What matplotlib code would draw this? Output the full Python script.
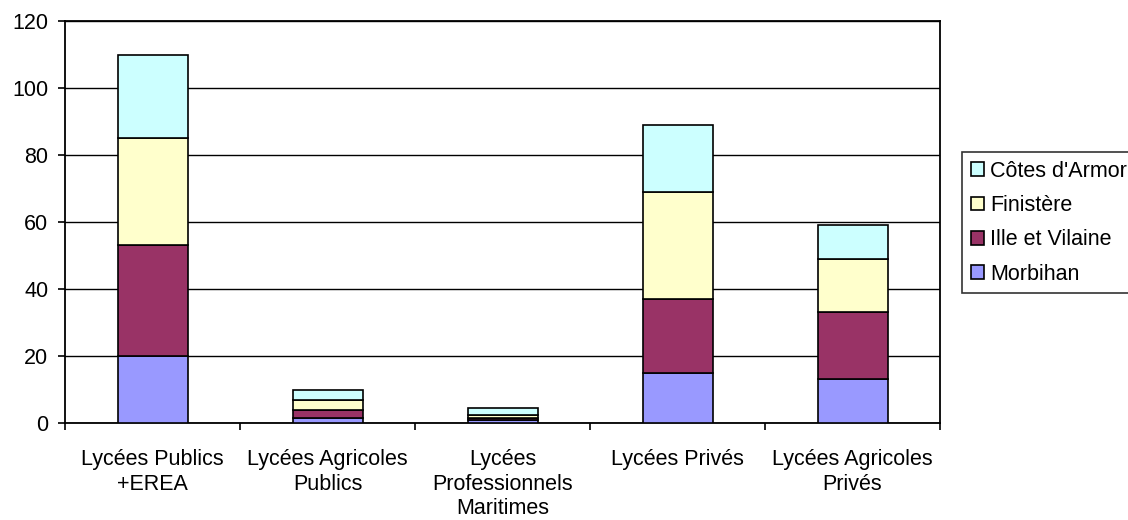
import matplotlib
matplotlib.use("Agg")
import matplotlib.pyplot as plt
import numpy as np

plt.rcParams['font.family'] = ['Liberation Sans', 'DejaVu Sans']

categories = ["Lycées Publics\n+EREA", "Lycées Agricoles\nPublics", "Lycées\nProfessionnels\nMaritimes",
              "Lycées Privés", "Lycées Agricoles\nPrivés"]
morbihan = [20, 1.5, 1, 15, 13]
ille_et_vilaine = [33, 2.5, 0.5, 22, 20]
finistere = [32, 3, 1, 32, 16]
cotes_darmor = [25, 3, 2, 20, 10]

series = [("Morbihan", morbihan, "#9999FF"),
          ("Ille et Vilaine", ille_et_vilaine, "#993366"),
          ("Finistère", finistere, "#FFFFCC"),
          ("Côtes d'Armor", cotes_darmor, "#CCFFFF")]

FS = 15.5

fig = plt.figure(figsize=(11.28, 5.20), dpi=100)
ax = fig.add_axes([65/1128, 1-423/520, 875/1128, 402/520])

x = np.arange(len(categories))
bottom = np.zeros(len(categories))
handles = []
for name, vals, col in series:
    v = np.array(vals, dtype=float)
    b = ax.bar(x, v, width=0.4, bottom=bottom, color=col, edgecolor="black", linewidth=1.2, label=name, zorder=3)
    handles.append(b)
    bottom += v

ax.set_xlim(-0.5, len(categories) - 0.5)
ax.set_ylim(0, 120)
ax.set_yticks(np.arange(0, 121, 20))
ax.yaxis.grid(True, color="black", linewidth=1.0, zorder=0)
ax.set_axisbelow(True)
ax.set_xticks(np.arange(-0.5, len(categories), 1.0))
ax.set_xticklabels([])
ax.set_xticks(x, minor=True)
ax.set_xticklabels(categories, minor=True, fontsize=FS, linespacing=1.2)
ax.tick_params(axis='x', which='minor', length=0, pad=19)
ax.tick_params(axis='x', which='major', length=5, width=1.2, direction='out')
ax.tick_params(axis='y', length=5, width=1.2, direction='out', labelsize=FS, pad=7)
for s in ax.spines.values():
    s.set_linewidth(1.3)
    s.set_color("black")

leg = fig.legend(handles[::-1], [s[0] for s in series][::-1], loc="upper left",
                 bbox_to_anchor=(962/1128, 1-152/520), fontsize=FS, frameon=True, fancybox=False,
                 edgecolor="black", handlelength=0.6, handleheight=0.6, handletextpad=0.3,
                 labelspacing=0.62, borderpad=0.4, borderaxespad=0)
leg.get_frame().set_linewidth(1.2)

fig.savefig("out.png", dpi=100)
